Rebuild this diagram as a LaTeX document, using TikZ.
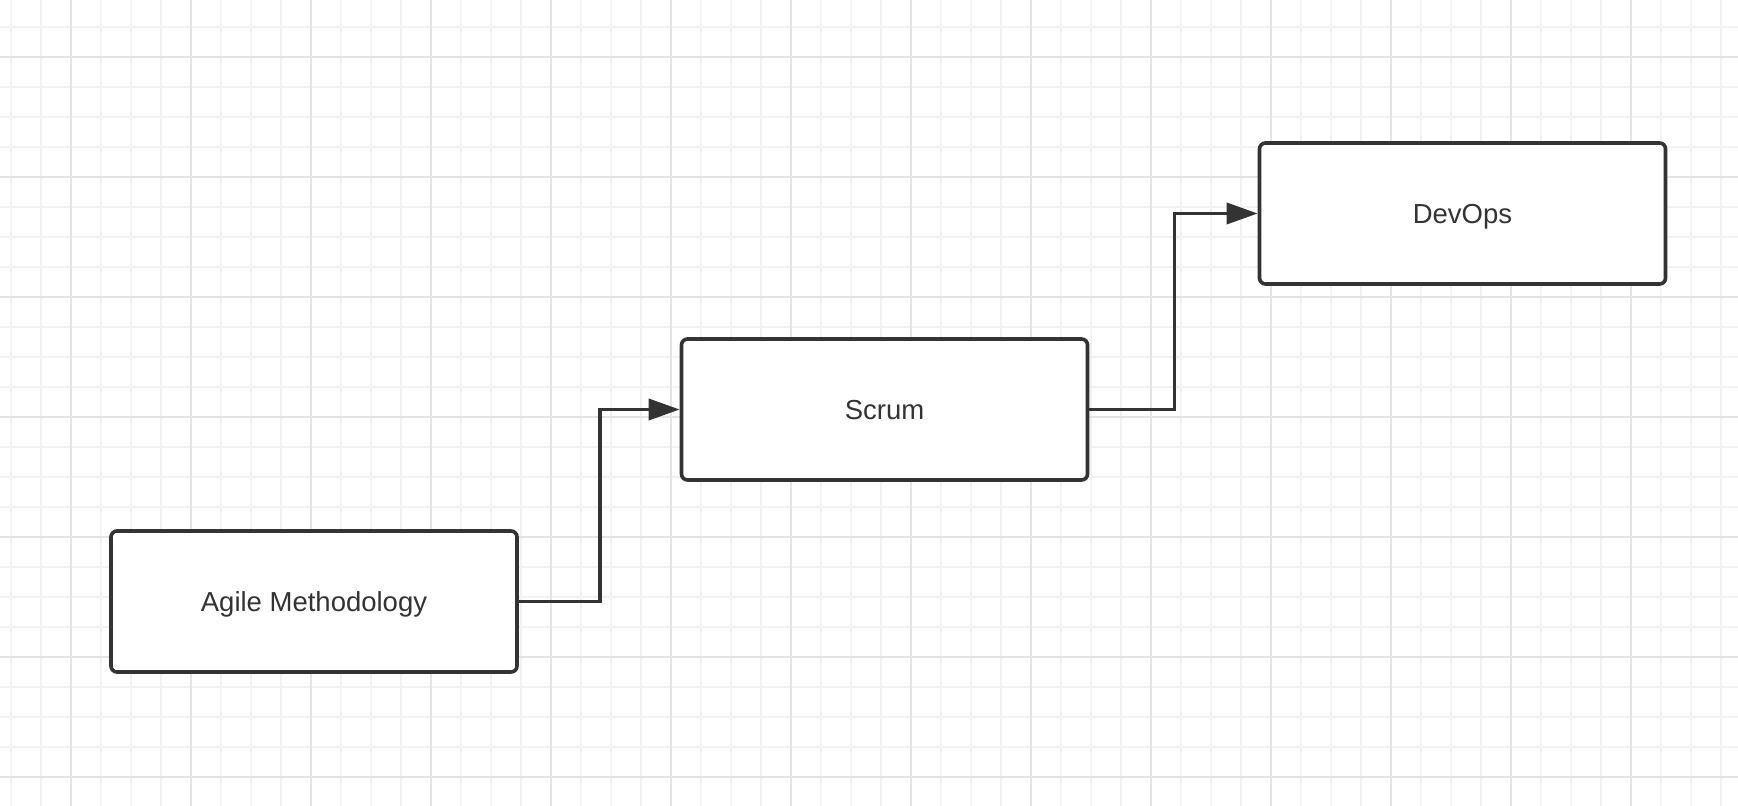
\documentclass[tikz,border=0pt]{standalone}
\usepackage{fontspec}
\setmainfont{Liberation Sans}
\usepackage{xcolor}
\usetikzlibrary{arrows.meta}

\definecolor{ink}{HTML}{333333}
\definecolor{minorgrid}{HTML}{F1F1F1}
\definecolor{majorgrid}{HTML}{E4E4E4}

\begin{document}
\begin{tikzpicture}
                [x=0.5pt, y=-0.5pt, >={Triangle[length=15.5pt,width=10.5pt]},
                stage/.style={draw=ink,fill=white,line width=1.8pt,
                    rounded corners=3pt,minimum width=203pt,minimum height=70.5pt,
                    text=ink,text height=9.85pt,text depth=0pt,
                    font=\fontsize{13.75pt}{16pt}\selectfont},
                link/.style={->,draw=ink,line width=1.8pt},
                ]
                \useasboundingbox[fill=white] (0,0) rectangle (1738,806);

                % background grid
                \foreach \gx in {11,41,...,1737}
                    \draw[minorgrid,line width=0.6pt] (\gx,0) -- (\gx,806);
                \foreach \gy in {27,57,...,806}
                    \draw[minorgrid,line width=0.6pt] (0,\gy) -- (1738,\gy);
                \foreach \gx in {71,191,...,1737}
                    \draw[majorgrid,line width=0.6pt] (\gx,0) -- (\gx,806);
                \foreach \gy in {57,177,...,806}
                    \draw[majorgrid,line width=0.6pt] (0,\gy) -- (1738,\gy);

                \node[stage] (agile) at (314,601.5) {Agile Methodology};
                \node[stage] (scrum) at (884.5,409.5) {Scrum};
                \node[stage] (devops) at (1462.5,213.5) {DevOps};

                \draw[link] (agile.east) -- ++(81,0) |- (scrum.west);
                \draw[link] (scrum.east) -- ++(85,0) |- (devops.west);
            \end{tikzpicture}
\end{document}
